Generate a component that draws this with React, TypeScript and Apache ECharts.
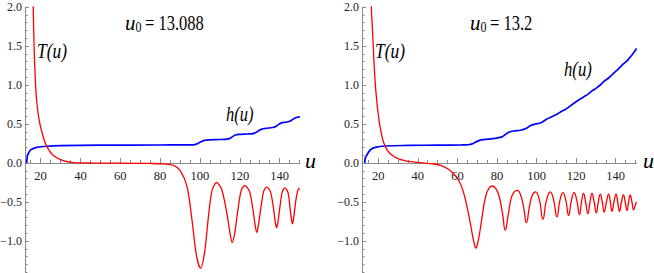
import React, { useEffect, useRef } from "react";
import * as echarts from "echarts";

// ---------- data ----------
const xMajorTicks = [20, 40, 60, 80, 100, 120, 140];
const xMinorTicks = [15, 25, 30, 35, 45, 50, 55, 65, 70, 75, 85, 90, 95, 105, 110, 115, 125, 130, 135, 145, 150];

// left panel, u0 = 13.088
const leftT: [number, number][] = [
  [15.9, 2.6], [16.3, 2.02], [16.6, 1.66], [17.1, 1.23], [18.0, 0.81], [19.3, 0.55], [21.3, 0.34],
  [23.0, 0.22], [26.3, 0.1], [31.4, 0.03], [36.4, 0.006], [45, 0.0], [60, -0.002], [75, -0.006],
  [82, -0.012], [86.8, -0.03], [90.2, -0.1], [93.5, -0.3], [96.1, -0.75], [98.2, -1.18], [100.3, -1.35],
  [102.3, -1.15], [104.2, -0.7], [106.0, -0.36], [108.3, -0.25], [110.8, -0.33], [113.4, -0.63],
  [115.2, -0.92], [116.2, -1.02], [117.3, -0.92], [118.9, -0.63], [120.6, -0.36], [122.4, -0.29],
  [124.8, -0.36], [126.6, -0.6], [127.7, -0.8], [128.5, -0.89], [129.3, -0.8], [130.6, -0.57],
  [132, -0.36], [133.5, -0.31], [135.4, -0.37], [137, -0.6], [137.8, -0.76], [138.4, -0.83],
  [139.1, -0.76], [140.2, -0.55], [141.3, -0.37], [142.6, -0.32], [144.2, -0.38], [145.3, -0.6],
  [145.9, -0.72], [146.4, -0.78], [147, -0.71], [148, -0.5], [149, -0.36], [149.6, -0.33], [150.1, -0.34],
];
const leftH: [number, number][] = [
  [13.088, 0], [13.25, 0.07], [13.8, 0.12], [14.6, 0.155], [15.5, 0.175], [18, 0.2], [23, 0.215],
  [30, 0.222], [50, 0.228], [80, 0.231], [96.5, 0.233], [98.5, 0.245], [100.3, 0.27], [102.3, 0.29],
  [104.5, 0.297], [110, 0.301], [113.5, 0.306], [115, 0.316], [116.2, 0.335], [117.5, 0.355],
  [119.5, 0.366], [124, 0.372], [126.5, 0.377], [128, 0.39], [129.5, 0.415], [131, 0.435], [133, 0.445],
  [136.5, 0.455], [138, 0.468], [139.5, 0.495], [141, 0.515], [143, 0.522], [144.8, 0.532], [146, 0.548],
  [147.3, 0.572], [148.8, 0.587], [150.1, 0.592],
];

// right panel, u0 = 13.2
const rightT: [number, number][] = [
  [16.1, 2.6], [16.5, 2.02], [17.2, 1.66], [18.0, 1.23], [18.9, 0.89], [20.2, 0.59], [21.6, 0.38],
  [23.6, 0.21], [27.0, 0.1], [32.0, 0.04], [38.7, 0.01], [48.0, -0.013], [52, -0.035], [55.5, -0.08],
  [58.5, -0.15], [61, -0.24], [63, -0.37], [64.6, -0.53], [66, -0.7], [67.3, -0.88], [68.4, -1.02],
  [69.3, -1.09], [70.3, -1.02], [71.6, -0.84], [73, -0.6], [74.3, -0.43], [75.8, -0.33], [77.4, -0.295],
  [79.2, -0.32], [81, -0.42], [82.7, -0.63], [84.2, -0.86], [85.7, -0.66], [87.2, -0.45], [88.7, -0.37],
  [90.2, -0.35], [91.8, -0.4], [93.4, -0.56], [94.9, -0.765], [96.4, -0.56], [97.9, -0.41], [99.5, -0.37],
  [101.4, -0.47], [103.2, -0.72], [105, -0.48], [106.9, -0.37], [108.6, -0.47], [110.3, -0.69],
  [111.8, -0.48], [113.3, -0.38], [114.8, -0.48], [116.2, -0.67], [117.6, -0.48], [119, -0.38],
  [120.4, -0.49], [121.7, -0.66], [122.7, -0.5], [123.7, -0.39], [124.8, -0.5], [125.9, -0.65],
  [127, -0.5], [128, -0.39], [129.1, -0.5], [130.2, -0.64], [131.2, -0.5], [132.2, -0.4],
  [133.2, -0.5], [134.2, -0.63], [135.3, -0.5], [136.4, -0.4], [137.3, -0.5], [138.1, -0.62],
  [139.1, -0.5], [140.2, -0.4], [141, -0.5], [141.9, -0.62], [142.9, -0.5], [143.9, -0.41],
  [144.8, -0.5], [145.7, -0.61], [146.5, -0.5], [147.3, -0.41], [148.2, -0.5], [149.0, -0.6],
  [149.8, -0.55], [150.4, -0.5],
];
const rightH: [number, number][] = [
  [13.2, 0], [13.4, 0.06], [14.2, 0.1], [16, 0.167], [18.5, 0.2], [23.6, 0.218], [35, 0.225], [50, 0.229],
  [62, 0.231], [65.5, 0.234], [67.5, 0.245], [69.3, 0.268], [71.2, 0.29], [73.5, 0.3], [77, 0.31],
  [80, 0.32], [82.5, 0.335], [84.2, 0.365], [86, 0.395], [88.5, 0.41], [92, 0.42], [94.9, 0.445],
  [97, 0.48], [99.5, 0.5], [101.5, 0.51], [103.2, 0.53], [105, 0.56], [107.5, 0.59], [110.3, 0.625],
  [112.5, 0.66], [114.5, 0.685], [116.2, 0.715], [118.5, 0.76], [121.7, 0.815], [124, 0.85],
  [125.9, 0.88], [128, 0.925], [130.2, 0.96], [132.2, 1.0], [134.2, 1.05], [136.4, 1.09], [138.1, 1.13],
  [140.2, 1.18], [141.9, 1.22], [143.9, 1.27], [145.7, 1.31], [147.4, 1.36], [149, 1.41], [150.5, 1.47],
];

const leftTitleValue = "13.088";
const rightTitleValue = "13.2";

// ---------- styling ----------
const SERIF = "Liberation Serif";
const AXIS_COLOR = "#8a8a8a";
const LABEL_COLOR = "#222";
const RED = "#ff0000";
const BLUE = "#0000ff";
const GRID_TOP = 7;
const GRID_H = 273;
const Y_MIN = -1.5;
const Y_MAX = 2;
const ZERO_OFFSET = -(GRID_H * (0 - Y_MIN)) / (Y_MAX - Y_MIN);

function xAxesFor(gridIndex: number, min: number, max: number) {
  const lineStyle = { color: AXIS_COLOR, width: 1 };
  return [
    {
      type: "value", gridIndex, min, max, position: "bottom", offset: ZERO_OFFSET,
      axisLine: { show: true, onZero: false, lineStyle },
      axisTick: { show: true, inside: true, length: 5, customValues: xMajorTicks, lineStyle },
      minorTick: { show: false },
      axisLabel: {
        show: true, customValues: xMajorTicks, margin: 6, fontFamily: SERIF, fontSize: 12.5, color: LABEL_COLOR,
      },
      splitLine: { show: false },
    },
    {
      type: "value", gridIndex, min, max, position: "bottom", offset: ZERO_OFFSET,
      axisLine: { show: false, onZero: false },
      axisTick: { show: true, inside: true, length: 3, customValues: xMinorTicks, lineStyle },
      minorTick: { show: false },
      axisLabel: { show: false },
      splitLine: { show: false },
    },
  ];
}

function yAxisFor(gridIndex: number) {
  const lineStyle = { color: AXIS_COLOR, width: 1 };
  return {
    type: "value", gridIndex, min: Y_MIN, max: Y_MAX, interval: 0.5, position: "left",
    axisLine: { show: true, onZero: false, lineStyle },
    axisTick: { show: true, inside: true, length: 4, lineStyle },
    minorTick: { show: true, splitNumber: 5, length: 2.5, lineStyle },
    axisLabel: {
      margin: 3, fontFamily: SERIF, fontSize: 12, color: LABEL_COLOR,
      formatter: (v: number) => (v <= Y_MIN + 1e-9 ? "" : v.toFixed(1).replace("-", "\u2212")),
    },
    splitLine: { show: false },
    minorSplitLine: { show: false },
  };
}

function txt(x: number, y: number, text: string, size: number, italic: boolean, scaleX: number) {
  return {
    type: "text", x, y, scaleX, z: 100,
    style: {
      text, fontFamily: SERIF, fontSize: size, fontStyle: italic ? "italic" : "normal", fill: "#000",
      textAlign: "left", textVerticalAlign: "middle", align: "left", verticalAlign: "middle",
    },
  };
}

function lineSeries(data: [number, number][], color: string, width: number, xIdx: number, yIdx: number, smooth = 0.3) {
  return {
    type: "line", data, xAxisIndex: xIdx, yAxisIndex: yIdx, showSymbol: false, symbol: "none",
    smooth, clip: true, lineStyle: { color, width }, itemStyle: { color }, z: color === RED ? 3 : 2,
  };
}

export default function App() {
  const ref = useRef<HTMLDivElement>(null);
  useEffect(() => {
    const chart = echarts.init(ref.current!, null, { renderer: "svg" });
    const option: any = {
      animation: false,
      backgroundColor: "#ffffff",
      grid: [
        { left: 25, top: GRID_TOP, width: 275, height: GRID_H, containLabel: false, outerBoundsMode: "none" },
        { left: 362, top: GRID_TOP, width: 274.5, height: GRID_H, containLabel: false, outerBoundsMode: "none" },
      ],
      xAxis: [...xAxesFor(0, 12.2, 150.2), ...xAxesFor(1, 11.8, 150.5)],
      yAxis: [yAxisFor(0), yAxisFor(1)],
      series: [
        lineSeries(leftH, BLUE, 1.7, 0, 0),
        lineSeries(leftT, RED, 1.3, 0, 0),
        lineSeries(rightH, BLUE, 1.7, 2, 1),
        lineSeries(rightT, RED, 1.3, 2, 1, 0.5),
      ],
      graphic: [
        // left panel
        txt(125, 22.6, "u", 22, true, 0.95),
        txt(135.5, 27.5, "0", 15, false, 0.8),
        txt(145, 22.6, "= " + leftTitleValue, 22, false, 0.75),
        txt(37, 50, "T(u)", 22, true, 0.79),
        txt(226, 113.6, "h(u)", 22, true, 0.75),
        txt(305, 160.6, "u", 22, true, 1),
        // right panel
        txt(470, 22.6, "u", 22, true, 0.95),
        txt(480.5, 27.5, "0", 15, false, 0.8),
        txt(490, 22.6, "= " + rightTitleValue, 22, false, 0.75),
        txt(375, 50.6, "T(u)", 22, true, 0.79),
        txt(564, 68.5, "h(u)", 22, true, 0.76),
        txt(643, 160.6, "u", 22, true, 1),
      ],
    };
    chart.setOption(option);
    return () => chart.dispose();
  }, []);
  return (
    <div
      ref={ref}
      style={{ position: "fixed", left: 0, top: 0, width: 654, height: 273, background: "#fff" }}
    />
  );
}
